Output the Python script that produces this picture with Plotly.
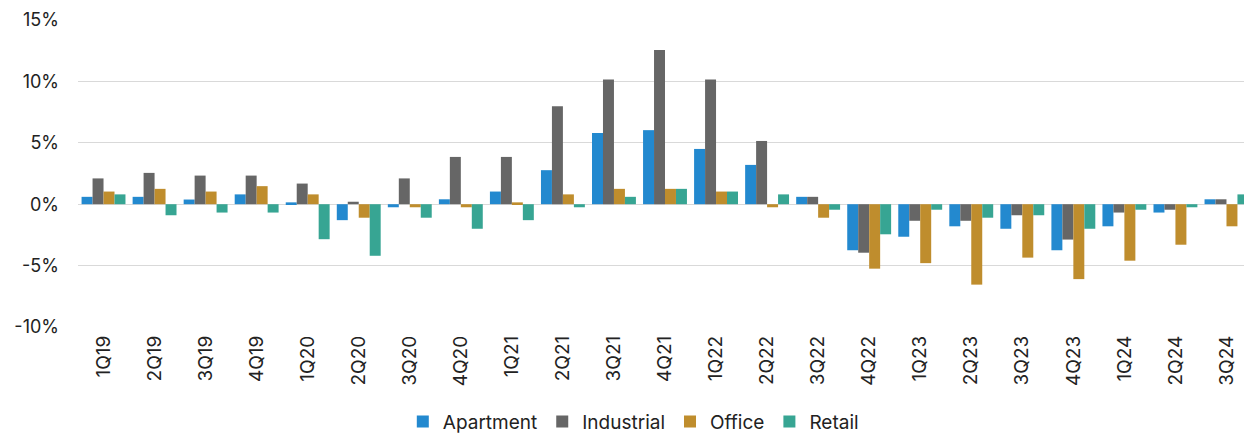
import plotly.graph_objects as go

quarters = ["1Q19","2Q19","3Q19","4Q19","1Q20","2Q20","3Q20","4Q20","1Q21","2Q21","3Q21","4Q21",
            "1Q22","2Q22","3Q22","4Q22","1Q23","2Q23","3Q23","4Q23","1Q24","2Q24","3Q24"]
apartment = [0.6, 0.6, 0.38, 0.8, 0.15, -1.3, -0.25, 0.4, 1.03, 2.77, 5.8, 6.03,
             4.5, 3.2, 0.6, -3.75, -2.65, -1.8, -2.0, -3.75, -1.8, -0.68, 0.4]
industrial = [2.1, 2.55, 2.33, 2.33, 1.68, 0.2, 2.1, 3.85, 3.85, 7.98, 10.15, 12.55,
              10.15, 5.15, 0.6, -3.95, -1.35, -1.35, -0.9, -2.88, -0.68, -0.45, 0.4]
office = [1.03, 1.25, 1.03, 1.47, 0.8, -1.1, -0.25, -0.25, 0.15, 0.8, 1.25, 1.25,
          1.03, -0.25, -1.1, -5.25, -4.8, -6.55, -4.35, -6.1, -4.6, -3.3, -1.8]
retail = [0.8, -0.9, -0.68, -0.68, -2.85, -4.2, -1.1, -2.0, -1.3, -0.25, 0.6, 1.25,
          1.03, 0.8, -0.45, -2.45, -0.45, -1.1, -0.9, -2.0, -0.45, -0.25, 0.8]
y_ticks = [-10, -5, 0, 5, 10, 15]

series = [("Apartment", apartment, "#2389CF"),
          ("Industrial", industrial, "#666666"),
          ("Office", office, "#BF8D2D"),
          ("Retail", retail, "#37A593")]

fig = go.Figure()
for name, vals, col in series:
    fig.add_trace(go.Bar(x=quarters, y=vals, name=name,
                         marker=dict(color=col, line=dict(width=0))))

font = "Inter, Lato, sans-serif"
fig.update_layout(
    width=1244, height=425,
    margin=dict(l=70, r=0, t=12, b=106),
    paper_bgcolor="white", plot_bgcolor="white",
    barmode="group", bargap=0.14, bargroupgap=0,
    font=dict(family=font, size=18, color="#222222"),
    showlegend=True,
    legend=dict(orientation="h", x=0.473, xanchor="center",
                yref="container", y=0.027, yanchor="middle",
                font=dict(size=19), itemwidth=30, traceorder="normal"),
    xaxis=dict(tickangle=-90, tickfont=dict(size=19), showgrid=False,
               showline=False, ticks="", zeroline=False, automargin=False,
               ticklabelstandoff=4),
    yaxis=dict(range=[-10, 15], tickvals=y_ticks,
               ticktext=[f"{v}%" for v in y_ticks],
               showgrid=True, gridcolor="#D9D9D9", gridwidth=1.2,
               zeroline=True, zerolinecolor="#D9D9D9", zerolinewidth=1.2,
               tickfont=dict(size=18), ticks="", automargin=False,
               ticklabelstandoff=18),
)
fig.write_html("out.html")
